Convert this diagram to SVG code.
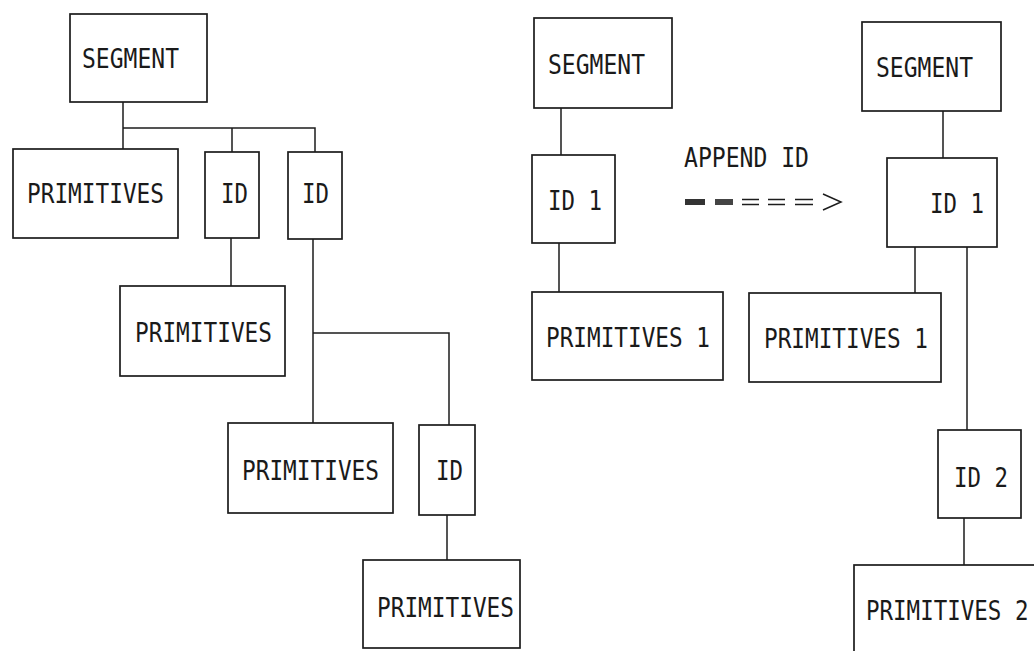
<svg xmlns="http://www.w3.org/2000/svg" width="1034" height="651" viewBox="0 0 1034 651">
<style>
.box{fill:#fff;stroke:#1c1c1c;stroke-width:1.7}
.ln{fill:none;stroke:#1c1c1c;stroke-width:1.5}
.t{font-family:"DejaVu Sans Mono","Liberation Mono",monospace;font-size:26px;fill:#1a1a1a}
.t2{font-family:"DejaVu Sans Mono","Liberation Mono",monospace;font-size:22.5px;fill:#1a1a1a}
</style>
<rect width="1034" height="651" fill="#fff"/>
<g id="connectors">
<path class="ln" d="M123,102V149M123,128H315V152M232,128V152"/>
<path class="ln" d="M231,238V286"/>
<path class="ln" d="M313,239V423M313,333H449V425"/>
<path class="ln" d="M447,515V560"/>
<path class="ln" d="M561,108V155M559,243V292"/>
<path class="ln" d="M943,111V158M915,247V293M967,247V430M964,518V565"/>
<g id="append-arrow">
<rect x="685" y="199" width="20" height="6" fill="#333"/>
<rect x="715" y="199" width="18" height="6" fill="#444"/>
<path class="ln" stroke-width="2" d="M742,199.5H759M742,204.5H759M768,199.5H785M768,204.5H785M795,199.5H813M795,204.5H813"/>
<path class="ln" stroke-width="2" d="M823,194L841,202L823,210"/>
</g>
</g>
<g id="seg-left"><rect class="box" x="70" y="14" width="137" height="88"/><text class="t" x="82" y="68" textLength="97" lengthAdjust="spacingAndGlyphs">SEGMENT</text></g>
<g id="prim-left-1"><rect class="box" x="13" y="149" width="165" height="89"/><text class="t" x="27" y="203" textLength="137" lengthAdjust="spacingAndGlyphs">PRIMITIVES</text></g>
<g id="id-left-1"><rect class="box" x="205" y="152" width="54" height="86"/><text class="t" x="221" y="203" textLength="27" lengthAdjust="spacingAndGlyphs">ID</text></g>
<g id="id-left-2"><rect class="box" x="288" y="152" width="54" height="87"/><text class="t" x="302" y="203" textLength="27" lengthAdjust="spacingAndGlyphs">ID</text></g>
<g id="prim-left-2"><rect class="box" x="120" y="286" width="165" height="90"/><text class="t" x="135" y="342" textLength="137" lengthAdjust="spacingAndGlyphs">PRIMITIVES</text></g>
<g id="prim-left-3"><rect class="box" x="228" y="423" width="165" height="90"/><text class="t" x="242" y="480" textLength="137" lengthAdjust="spacingAndGlyphs">PRIMITIVES</text></g>
<g id="id-left-3"><rect class="box" x="419" y="425" width="56" height="90"/><text class="t" x="436" y="480" textLength="27" lengthAdjust="spacingAndGlyphs">ID</text></g>
<g id="prim-left-4"><rect class="box" x="363" y="560" width="157" height="88"/><text class="t" x="377" y="617" textLength="137" lengthAdjust="spacingAndGlyphs">PRIMITIVES</text></g>
<g id="seg-mid"><rect class="box" x="534" y="18" width="138" height="90"/><text class="t" x="548" y="74" textLength="97" lengthAdjust="spacingAndGlyphs">SEGMENT</text></g>
<g id="id1-mid"><rect class="box" x="532" y="155" width="83" height="88"/><text class="t" x="548" y="210" textLength="54" lengthAdjust="spacingAndGlyphs">ID 1</text></g>
<g id="prim1-mid"><rect class="box" x="532" y="292" width="191" height="88"/><text class="t" x="546" y="347" textLength="164" lengthAdjust="spacingAndGlyphs">PRIMITIVES 1</text></g>
<g id="append-label"><text class="t" x="684" y="167" textLength="125" lengthAdjust="spacingAndGlyphs">APPEND ID</text></g>
<g id="seg-right"><rect class="box" x="862" y="22" width="139" height="89"/><text class="t" x="876" y="77" textLength="97" lengthAdjust="spacingAndGlyphs">SEGMENT</text></g>
<g id="id1-right"><rect class="box" x="887" y="158" width="110" height="89"/><text class="t" x="930" y="213" textLength="54" lengthAdjust="spacingAndGlyphs">ID 1</text></g>
<g id="prim1-right"><rect class="box" x="749" y="293" width="192" height="89"/><text class="t" x="764" y="348" textLength="164" lengthAdjust="spacingAndGlyphs">PRIMITIVES 1</text></g>
<g id="id2-right"><rect class="box" x="938" y="430" width="83" height="88"/><text class="t" x="954" y="487" textLength="54" lengthAdjust="spacingAndGlyphs">ID 2</text></g>
<g id="prim2-right"><rect class="box" x="854" y="565" width="200" height="100"/><text class="t2" x="0" y="0" transform="translate(866,620) scale(1,1.15)">PRIMITIVES 2</text></g>
</svg>
